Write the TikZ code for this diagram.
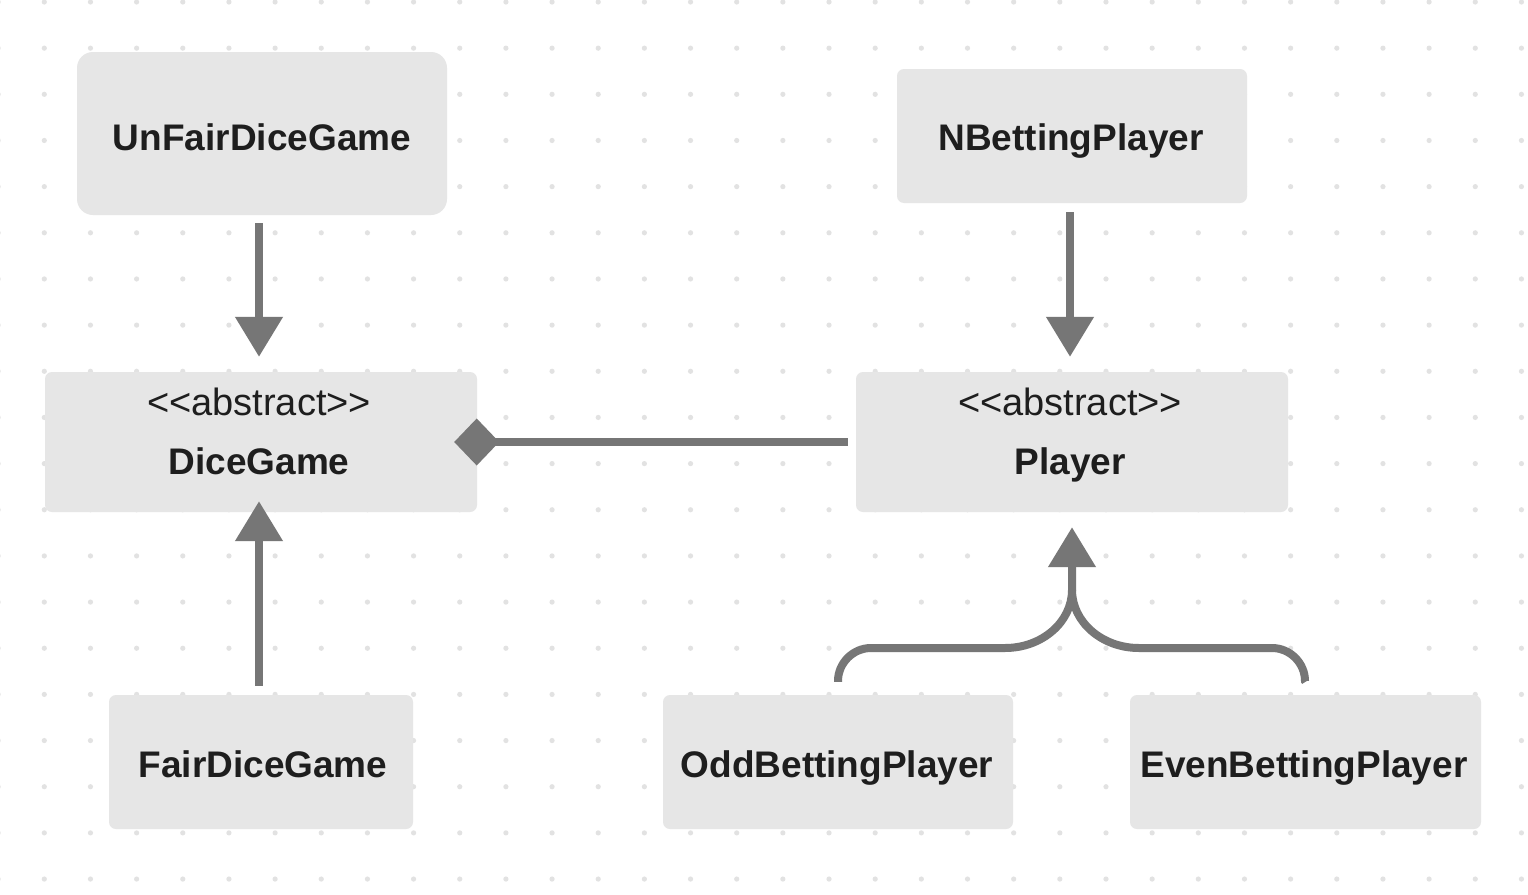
\documentclass[tikz,border=0pt]{standalone}
\usepackage{fontspec}
\setmainfont{Liberation Sans}
\usetikzlibrary{arrows.meta}
\definecolor{boxfill}{HTML}{E6E6E6}
\definecolor{conncol}{HTML}{767676}
\definecolor{dotcol}{HTML}{E2E2E2}
\definecolor{txtcol}{HTML}{1E1E1E}
\begin{document}
\begin{tikzpicture}[x=1pt,y=-1pt,
  box/.style={fill=boxfill, draw=none, inner sep=0pt, rounded corners=7pt},
  lbl/.style={inner sep=0pt, anchor=base, text=txtcol, font=\fontsize{37}{44}\selectfont\bfseries},
  ster/.style={inner sep=0pt, anchor=base, text=txtcol, font=\fontsize{38}{44}\selectfont},
  conn/.style={draw=conncol, line width=8pt},
  inh/.style={-{Triangle[width=46pt,length=40pt]}},
  comp/.style={-{Diamond[width=47pt,length=45pt]}}
]
\useasboundingbox (0,0) rectangle (1528,894);
\fill[white] (0,0) rectangle (1528,894);
% dot grid
\foreach \i in {0,...,33}{
  \foreach \j in {0,...,19}{
    \fill[dotcol] ({-1.86+46.16*\i},{2+46.16*\j}) circle (2.6pt);
  }
}
% boxes
\node[box, rounded corners=16pt, minimum width=370pt, minimum height=163pt] (unfair) at (262,133.5) {};
\node[box, minimum width=350pt, minimum height=134pt] (nbet) at (1072,136) {};
\node[box, minimum width=432pt, minimum height=140pt] (dice) at (261,442) {};
\node[box, minimum width=432pt, minimum height=140pt] (player) at (1072,442) {};
\node[box, minimum width=304pt, minimum height=134pt] (fair) at (261,762) {};
\node[box, minimum width=350pt, minimum height=134pt] (odd) at (838,762) {};
\node[box, minimum width=351pt, minimum height=134pt] (even) at (1305.5,762) {};
% labels
\node[lbl] (unfairt) at (262,150) {UnFairDiceGame};
\node[lbl] (nbett) at (1071,150) {NBettingPlayer};
\node[ster] (dices) at (259,415) {<{}<abstract>{}>};
\node[lbl] (dicet) at (259,474) {DiceGame};
\node[ster] (players) at (1070,415) {<{}<abstract>{}>};
\node[lbl] (playert) at (1070,474) {Player};
\node[lbl] (fairt) at (263,777) {FairDiceGame};
\node[lbl] (oddt) at (837,777) {OddBettingPlayer};
\node[lbl] (event) at (1304,777) {EvenBettingPlayer};
% connectors
\draw[conn,inh] ([xshift=-3pt,yshift=-8pt]unfair.south) -- ([xshift=-2pt,yshift=15pt]dice.north);
\draw[conn,inh] ([xshift=-2pt,yshift=-9pt]nbet.south) -- ([xshift=-2pt,yshift=15pt]player.north);
\draw[conn,inh] ([xshift=-2pt,yshift=9pt]fair.north) -- ([xshift=-2pt,yshift=11pt]dice.south);
\draw[conn,comp] ([xshift=-8pt]player.west) -- ([xshift=-23pt]dice.east);
\coordinate (merge) at (1072,590);
\coordinate (oddtop) at ([yshift=13pt]odd.north);
\coordinate (eventop) at ([yshift=13pt]even.north);
\draw[conn,inh] (oddtop) -- (838,681) .. controls (838,663) and (853,648) .. (871,648) -- (1005,648) .. controls (1042,648) and (1072,622) .. (merge) -- ([yshift=-15pt]player.south -| merge);
\draw[conn] (eventop) -- (1305,681) .. controls (1305,663) and (1290,648) .. (1272,648) -- (1139,648) .. controls (1102,648) and (1072,622) .. (merge);
\end{tikzpicture}
\end{document}
